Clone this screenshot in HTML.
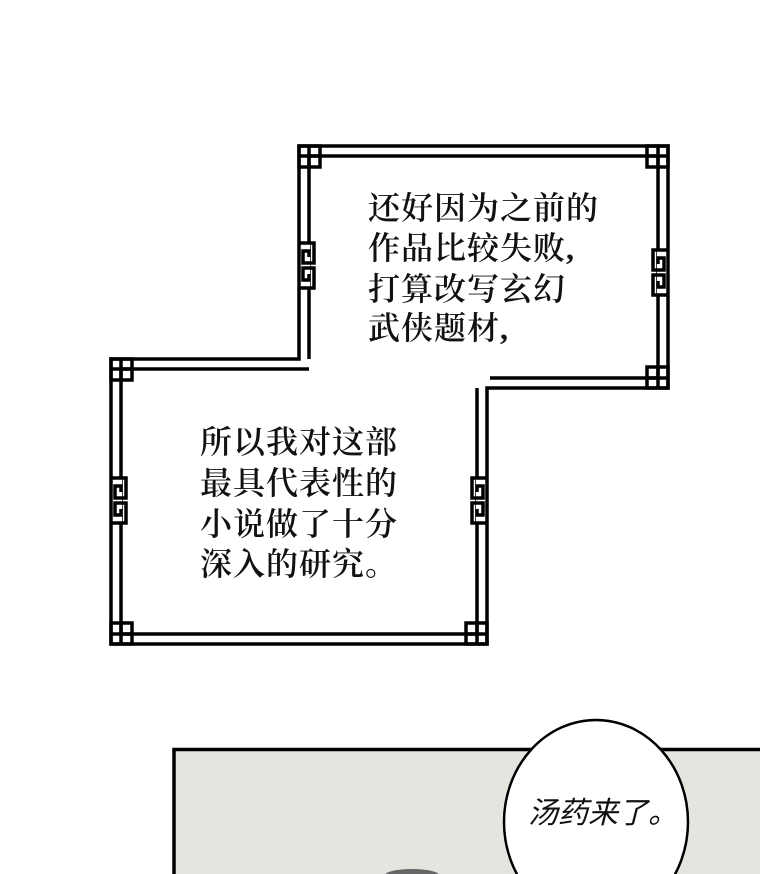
<!DOCTYPE html>
<html><head><meta charset="utf-8"><style>
html,body{margin:0;padding:0;background:#fff;overflow:hidden;}
svg{display:block;}
.t{font-family:"Liberation Serif","Noto Serif CJK SC",serif;font-size:32px;fill:#111;font-weight:600;letter-spacing:1px;}
.b{font-family:"Liberation Sans","Noto Sans CJK SC",sans-serif;font-size:30px;fill:#111;font-style:italic;}
</style></head><body>
<svg width="760" height="874" viewBox="0 0 760 874" xmlns="http://www.w3.org/2000/svg">
<defs>
<g id="c" fill="none" stroke="#000" stroke-width="3.5">
<rect x="0" y="0" width="21" height="21"/>
<path d="M10,0 V21 M0,10 H21"/>
</g>
<g id="f" fill="none" stroke="#000" stroke-width="3.5">
<rect x="3" y="0" width="8" height="45" fill="#fff" stroke="none"/>
<path d="M0,0 H15 V20 H4 V8 H10 V14 M0,45 H15 V25 H4 V37 H10 V31"/>
</g>
<clipPath id="cl"><rect width="760" height="874"/></clipPath>
</defs>
<rect width="760" height="874" fill="#fff"/>
<g fill="none" stroke="#000" stroke-width="3.5">
<path d="M111,644 V359 H299 V146 H668 V388 H487 V644 Z"/>
<path d="M121,634 V369 H309 M309,156 V359 M309,156 H658 V378 H490 M477,388 V634 H121"/>
</g>
<use href="#c" transform="translate(299,146)"/>
<use href="#c" transform="translate(668,146) scale(-1,1)"/>
<use href="#c" transform="translate(668,388) scale(-1,-1)"/>
<use href="#c" transform="translate(111,359)"/>
<use href="#c" transform="translate(111,644) scale(1,-1)"/>
<use href="#c" transform="translate(487,644) scale(-1,-1)"/>
<use href="#f" transform="translate(299,243)"/>
<use href="#f" transform="translate(668,250) scale(-1,1)"/>
<use href="#f" transform="translate(111,478)"/>
<use href="#f" transform="translate(487,478) scale(-1,1)"/>
<g class="t">
<text x="368" y="219">还好因为之前的</text>
<text x="368" y="259">作品比较失败,</text>
<text x="368" y="300">打算改写玄幻</text>
<text x="368" y="339">武侠题材,</text>
<text x="200" y="453">所以我对这部</text>
<text x="200" y="494">最具代表性的</text>
<text x="200" y="535">小说做了十分</text>
<text x="200" y="575">深入的研究。</text>
</g>
<g clip-path="url(#cl)">
<rect x="174" y="749.5" width="600" height="140" fill="#e3e5df" stroke="#000" stroke-width="3.5"/>
<ellipse cx="412" cy="876" rx="28" ry="7" fill="#666"/>
<ellipse cx="596" cy="822" rx="92" ry="102" fill="#fff" stroke="#000" stroke-width="2.5"/>
</g>
<text class="b" x="528" y="823">汤药来了。</text>
</svg>
</body></html>
